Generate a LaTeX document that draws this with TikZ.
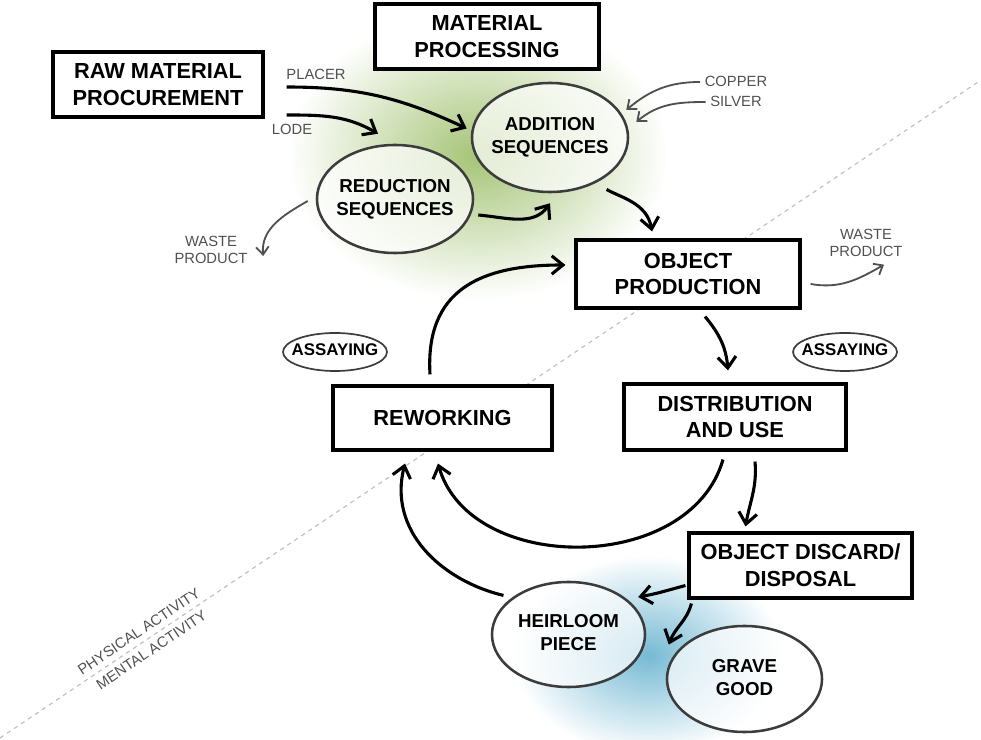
\documentclass[tikz,border=0pt]{standalone}
\usepackage{fontspec}
\setmainfont{Liberation Sans}
\usetikzlibrary{positioning,calc,shapes.geometric,arrows.meta}

\definecolor{glowgreen}{RGB}{165,196,118}
\definecolor{glowblue}{RGB}{118,186,212}
\definecolor{inkgrey}{RGB}{80,80,80}
\definecolor{rimgrey}{RGB}{60,60,60}
\definecolor{splitgrey}{RGB}{190,190,190}
\newcommand{\ovtext}[1]{\makebox[0pt]{\begin{tabular}{@{}c@{}}#1\end{tabular}}}

\begin{document}
\begin{tikzpicture}[x=0.025cm,y=0.025cm,
    >={Straight Barb[length=8pt,width=13pt]},
    stage/.style={draw,line width=2.2pt,fill=white,align=center,inner sep=0pt,
      font=\bfseries\fontsize{15.5}{19}\selectfont},
    seq/.style={ellipse,draw=rimgrey,line width=1.8pt,inner sep=0pt,fill=white,fill opacity=0.7,
      text opacity=1,font=\bfseries\fontsize{13.3}{16.5}\selectfont},
    assay/.style={ellipse,draw=rimgrey,line width=1.2pt,inner sep=0pt,
      minimum width=2.6cm,minimum height=0.95cm,font=\bfseries\fontsize{12}{14}\selectfont},
    note/.style={text=inkgrey,align=center,inner sep=1pt,font=\fontsize{10.5}{12.5}\selectfont},
    flow/.style={->,line width=2.2pt},
    side/.style={->,line width=1.3pt,draw=inkgrey,>={Straight Barb[length=5.5pt,width=9pt]}}]
    \useasboundingbox (0,0) rectangle (981,-740);
    % glows behind the processing and disposal stages
    \shade[inner color=glowgreen,outer color=white] (478,-155) ellipse (190 and 145);
    \shade[inner color=glowblue,outer color=white] (648,-655) ellipse (135 and 100);
    % physical / mental split
    \draw[splitgrey,dashed,line width=0.8pt] (0,-738) -- (981,-80)
      coordinate[pos=0.148] (split);
    \node[note,above,rotate=33.9,inner sep=4pt] (physical) at (split) {PHYSICAL ACTIVITY};
    \node[note,below,rotate=33.9,inner sep=4pt] (mental) at (split) {MENTAL ACTIVITY};

    \node[stage,minimum width=5.25cm,minimum height=1.625cm] (raw) at (158,-84.5) {RAW MATERIAL\\PROCUREMENT};
    \node[stage,minimum width=5.6cm,minimum height=1.625cm] (proc) at (487,-36.5) {MATERIAL\\PROCESSING};
    \node[seq,minimum width=3.9cm,minimum height=2.725cm] (addseq) at (550,-137.5) {\ovtext{ADDITION\\SEQUENCES}};
    \node[seq,minimum width=3.9cm,minimum height=2.7cm] (redseq) at (395,-199) {\ovtext{REDUCTION\\SEQUENCES}};
    \node[stage,minimum width=5.6cm,minimum height=1.7cm] (objprod) at (688,-274) {OBJECT\\PRODUCTION};
    \node[stage,minimum width=5.55cm,minimum height=1.65cm] (distuse) at (735,-417) {DISTRIBUTION\\AND USE};
    \node[stage,minimum width=5.475cm,minimum height=1.6cm] (rework) at (442.5,-418) {REWORKING};
    \node[assay] (assayL) at (335,-352) {\ovtext{ASSAYING}};
    \node[assay] (assayR) at (845,-352) {\ovtext{ASSAYING}};
    \node[stage,minimum width=5.575cm,minimum height=1.625cm] (discard) at (800.5,-565.5) {OBJECT DISCARD/\\DISPOSAL};
    \node[seq,minimum width=3.825cm,minimum height=2.625cm] (heirloom) at (568.5,-634.5) {\ovtext{HEIRLOOM\\PIECE}};
    \node[seq,minimum width=3.875cm,minimum height=2.65cm] (grave) at (744.5,-679) {\ovtext{GRAVE\\GOOD}};

    \node[note] (placer) at (316,-74) {PLACER};
    \node[note] (lode) at (292,-129) {LODE};
    \node[note] (copper) at (736,-81) {COPPER};
    \node[note] (silver) at (736,-101) {SILVER};
    \node[note] (wasteL) at (211,-250) {WASTE\\PRODUCT};
    \node[note] (wasteR) at (866,-243) {WASTE\\PRODUCT};

    % material processing
    \draw[flow] ($(raw.east)+(22,-2.5)$) to[out=0,in=155] ($(addseq.west)+(-4,9)$);
    \draw[flow] ($(raw.east)+(22,-30.5)$) to[out=0,in=150] ($(redseq.north)+(-17,10)$);
    \draw[flow] ($(redseq.east)+(4,-16)$) to[out=-5,in=-125] ($(addseq.south)+(0,-10)$);
    \draw[side] ($(redseq.west)+(-8,-2)$) to[out=210,in=95] ($(wasteL.east)+(14,-6)$);
    \draw[side] ($(copper.west)+(-3,-1)$) to[out=180,in=40] ($(addseq.east)+(-3,27.5)$);
    \draw[side] ($(silver.west)+(-3,-1)$) to[out=180,in=40] ($(addseq.east)+(7,15.5)$);
    \draw[flow,shorten <=9pt] (addseq.-45) to[out=-30,in=100] ($(objprod.north)+(-36,7)$);
    % life cycle
    \draw[side] ($(objprod.east)+(9,-10)$) to[out=-10,in=210] ($(wasteR.south)+(18,-6)$);
    \draw[flow] ($(objprod.south)+(17,-7)$) to[out=-50,in=95] ($(distuse.north)+(-7,12)$);
    \draw[flow] ($(distuse.south)+(20,-10)$) to[out=-85,in=80] ($(discard.north)+(-55,5)$);
    \draw[flow] ($(distuse.south)+(-12,-8)$) .. controls (690,-575) and (470,-575) .. ($(rework.south)+(-4.5,-12)$);
    \draw[flow] ($(heirloom.north west)+(-10,1)$) .. controls (440,-580) and (388,-530) .. ($(rework.south)+(-37.5,-12)$);
    \draw[flow] ($(rework.north)+(-12.5,10)$) .. controls (425,-290) and (480,-265) .. ($(objprod.west)+(-9,9)$);
    \draw[flow] ($(discard.west)+(-2,-20)$) to[out=195,in=10] ($(heirloom.30)+(10,3)$);
    \draw[flow] ($(discard.south west)+(4,-4)$) to[out=-105,in=70] ($(grave.north west)+(-20,-4)$);
\end{tikzpicture}
\end{document}
